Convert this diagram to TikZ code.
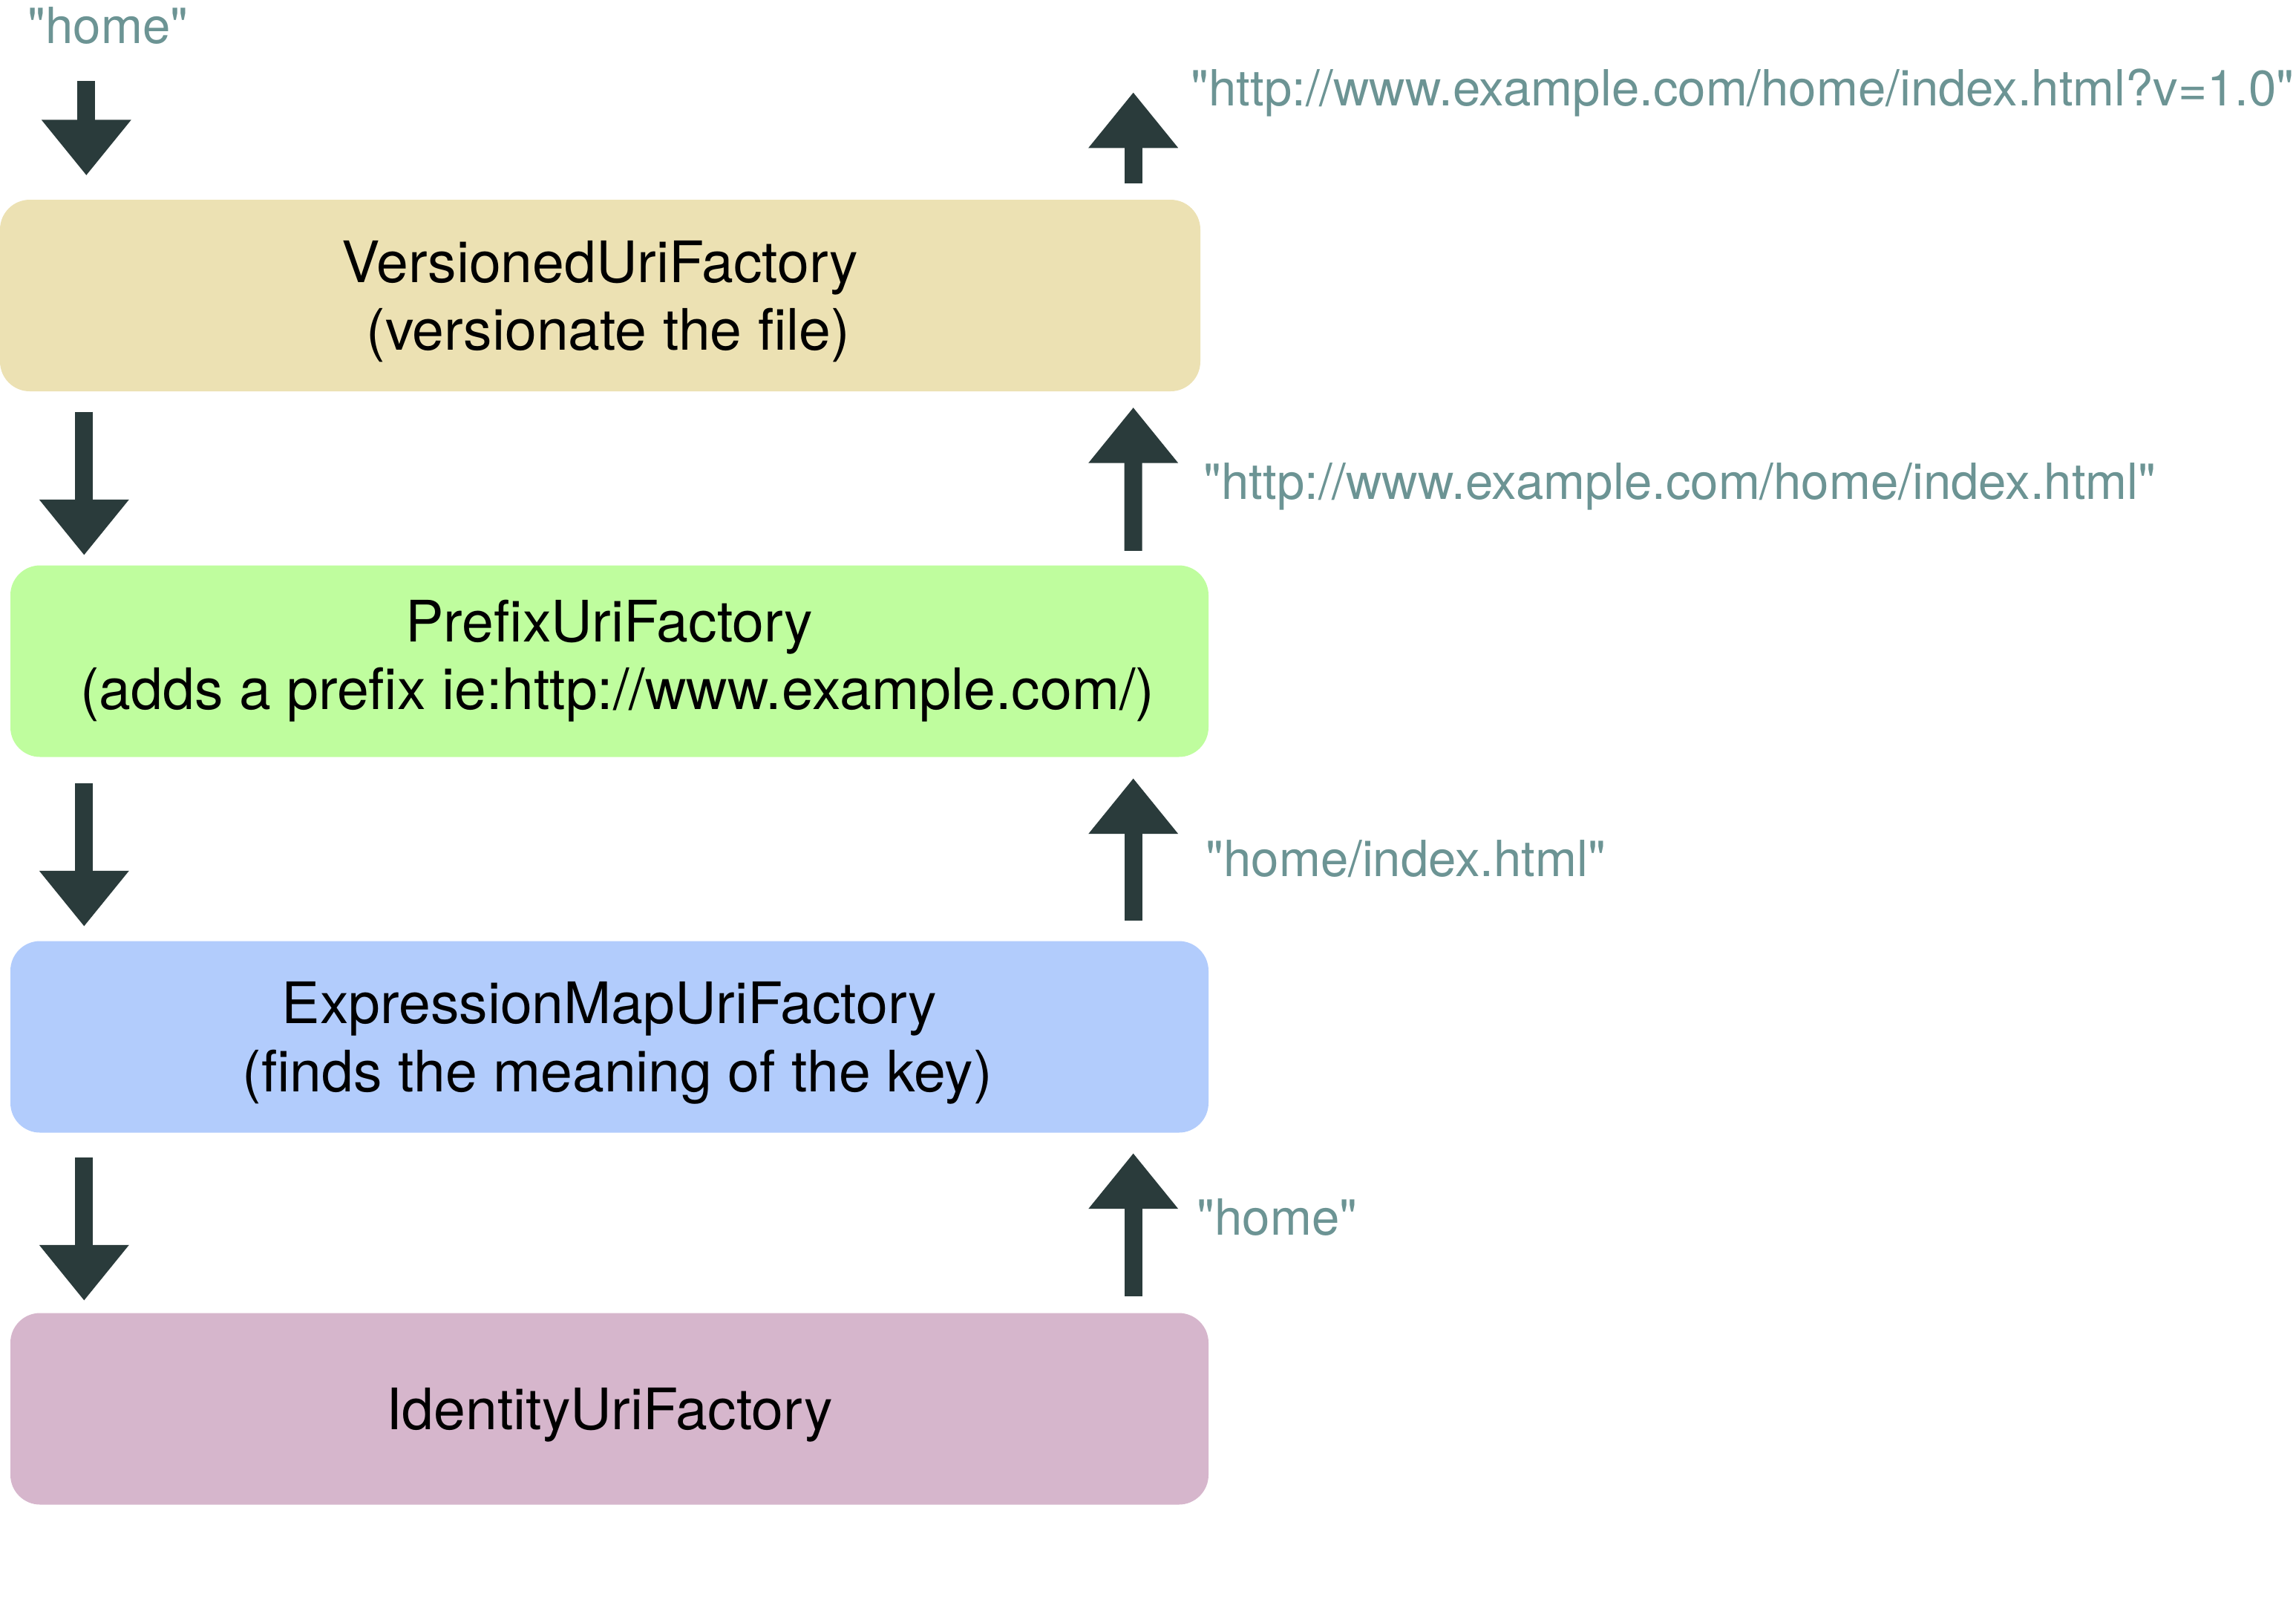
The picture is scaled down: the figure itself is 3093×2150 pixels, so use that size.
\documentclass[tikz,border=0pt]{standalone}
\usepackage{fontspec}
\setmainfont{TeX Gyre Heros}[Ligatures=TeXOff]
\usetikzlibrary{arrows.meta,calc}

\definecolor{versfill}{RGB}{236,225,179}
\definecolor{preffill}{RGB}{191,253,158}
\definecolor{exprfill}{RGB}{178,204,252}
\definecolor{idenfill}{RGB}{214,182,204}
\definecolor{urigray}{RGB}{108,148,148}
\definecolor{arrowdark}{RGB}{42,59,59}

\tikzset{
  factory/.style={rounded corners=4mm,minimum width=161.4mm,minimum height=25.8mm,
    inner sep=0pt,align=center,text depth=0pt,font=\fontsize{21.9}{26}\selectfont},
  uri/.style={anchor=base west,inner sep=0pt,text=urigray,font=\fontsize{19.1}{22}\selectfont},
  flow/.style={draw=arrowdark,line width=2.4mm,-{Triangle[width=11.6mm,length=7.5mm]}}
}

\begin{document}
\begin{tikzpicture}[x=0.1mm,y=-0.1mm]
\useasboundingbox (0,0) rectangle (3093,2150);
\node[factory,fill=versfill,minimum width=161.7mm] (vers) at (808.5,398) {VersionedUriFactory\\ \hspace*{.28em}(versionate the file)};
\node[factory,fill=preffill,text depth=] (pref) at (821,890.5) {PrefixUriFactory\\ \hspace*{.28em}(adds a prefix ie:http://www.example.com/)};
\node[factory,fill=exprfill] (expr) at (821,1396.5) {ExpressionMapUriFactory\\ \hspace*{.28em}(finds the meaning of the key)};
\node[factory,fill=idenfill] (iden) at (821,1897.5) {IdentityUriFactory};
\node[uri] (in) at (37,58) {"home"};
\node[uri] (out1) at (1604,142) {"http://www.example.com/home/index.html?v=1.0"};
\node[uri] (out2) at (1621,672) {"http://www.example.com/home/index.html"};
\node[uri] (out3) at (1624,1180) {"home/index.html"};
\node[uri] (out4) at (1612,1663) {"home"};
% going down
\draw[flow] ($(vers.north west)+(117,-159)$) -- ($(vers.north west)+(117,-32)$);
\draw[flow] ($(vers.south west)+(114,27)$) -- ($(pref.north west)+(100,-13)$);
\draw[flow] ($(pref.south west)+(100,35)$) -- ($(expr.north west)+(100,-19)$);
\draw[flow] ($(expr.south west)+(100,33)$) -- ($(iden.north west)+(100,-16)$);
% coming back up
\draw[flow] ($(iden.north east)+(-102,-22)$) -- ($(expr.south east)+(-102,27)$);
\draw[flow] ($(expr.north east)+(-102,-27)$) -- ($(pref.south east)+(-102,28)$);
\draw[flow] ($(pref.north east)+(-102,-19)$) -- ($(vers.south east)+(-91,21)$);
\draw[flow] ($(vers.north east)+(-91,-21)$) -- ($(vers.north east)+(-91,-144)$);
\end{tikzpicture}
\end{document}
